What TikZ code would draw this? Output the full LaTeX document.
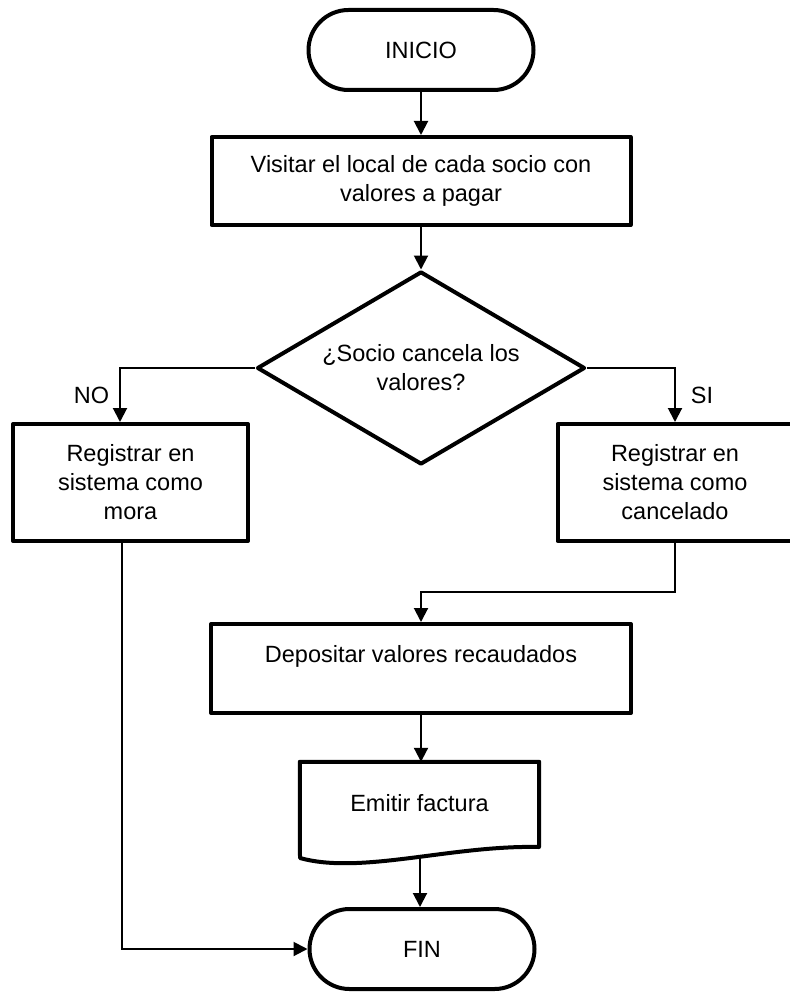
\documentclass[tikz,border=0pt]{standalone}
\usepackage{fontspec}
\setmainfont{Liberation Sans}
\usetikzlibrary{shapes.misc,shapes.geometric,arrows.meta}
\begin{document}
\begin{tikzpicture}[x=1pt,y=-1pt,
  every node/.style={font=\fontsize{23.5}{29}\selectfont, inner sep=0pt},
  term/.style={rounded rectangle, draw, line width=4pt, minimum width=225pt, minimum height=80pt},
  proc/.style={rectangle, draw, line width=4pt, line join=round, align=center},
  decision/.style={diamond, draw, line width=4pt, line join=round, aspect=1.7,
                   minimum width=328pt, minimum height=193pt, align=center},
  outline/.style={line width=4pt, line join=round},
  arr/.style={line width=2pt, -{Triangle[length=14pt,width=14pt]}}
]
\useasboundingbox (0,0) rectangle (789,992);

% main column
\node[term] (ini) at (421,50) {INICIO};
\node[proc, minimum width=419pt, minimum height=88pt] (visit) at (421,181)
  {Visitar el local de cada socio con\\valores a pagar};
\node[decision] (dec) at (421,368) {¿Socio cancela los\\valores?};
\node[proc, minimum width=235pt, minimum height=117pt] (mora) at (130.5,482.5)
  {Registrar en\\sistema como\\mora};
\node[proc, minimum width=235pt, minimum height=117pt] (canc) at (675,482.5)
  {Registrar en\\sistema como\\cancelado};
\node[proc, minimum width=420pt, minimum height=89pt] (dep) at (421,668.5)
  {Depositar valores recaudados\\~};

% document shape with wavy bottom
\node[minimum width=239pt, minimum height=82pt] (doc) at (419.5,803) {Emitir factura};
\draw[outline] (doc.north west) -- (doc.north east) -- (539,847)
  .. controls (451,845) and (361,875) .. (300,858) -- cycle;
\coordinate (docb) at (420,856);

\node[term] (fin) at (422,949) {FIN};

% branch labels
\node (nolbl) at (91.5,395) {NO};
\node (silbl) at (702,395) {SI};

% connectors
\coordinate (nox) at (120,368);
\coordinate (mrg) at (675,592);
\coordinate (lx) at (122,946);

\draw[arr] (ini.south) -- (visit.north);
\draw[arr] (visit.south) -- (dec.north);
\draw[arr] (dec.west) -| (nox |- mora.north);
\draw[arr] (dec.east) -| (canc.north);
\draw[arr] (canc.south) -- (mrg) -| (dep.north);
\draw[arr] (dep.south) -- (dep.south |- doc.north);
\draw[arr] (docb) -- (docb |- fin.north);
\draw[arr] (lx |- mora.south) |- (fin.west);
\end{tikzpicture}
\end{document}
